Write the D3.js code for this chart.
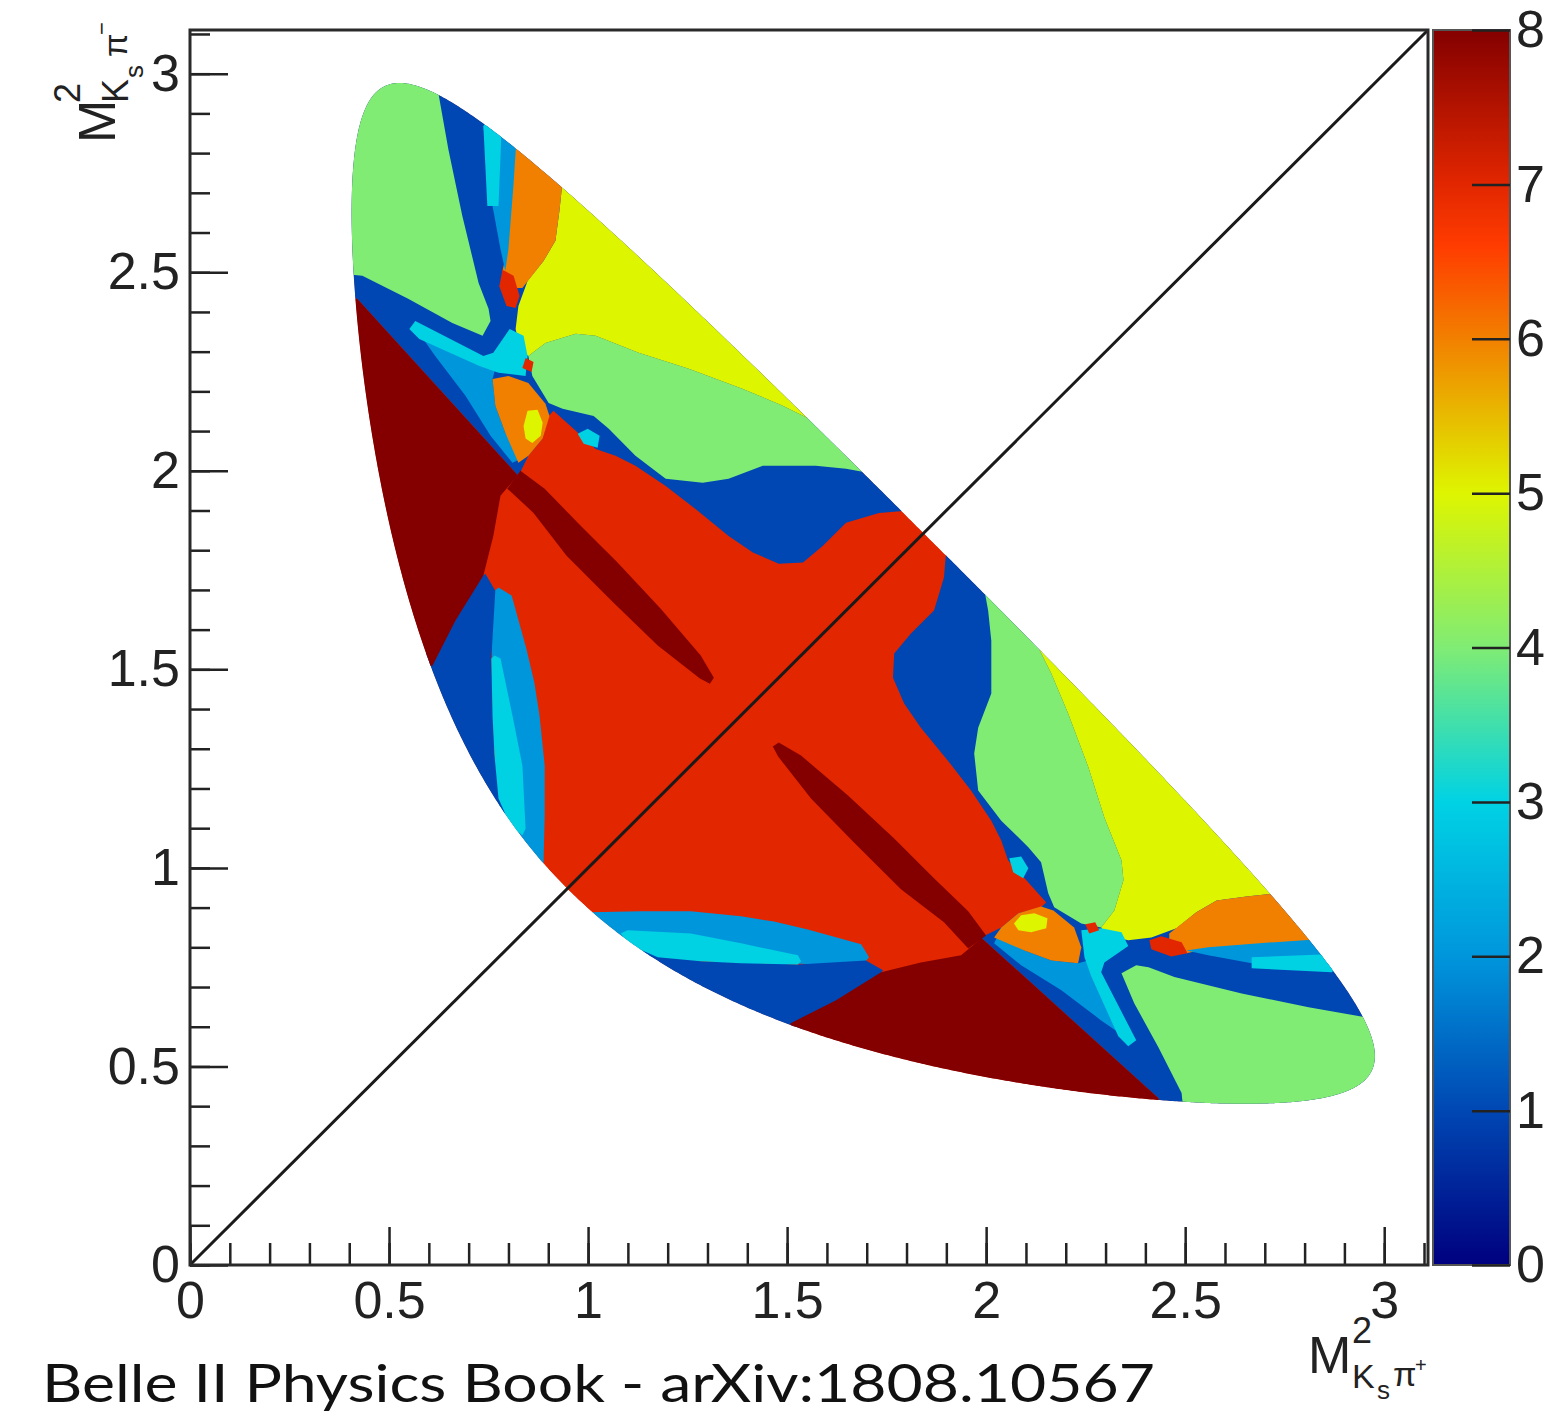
<!DOCTYPE html>
<html>
<head>
<meta charset="utf-8">
<script src="https://cdn.jsdelivr.net/npm/d3@7"></script>
<style>
  body { margin: 0; background: #fff; }
  svg { display: block; }
  .tick text, .lbl { font-family: "Liberation Sans", Arial, sans-serif; fill: #222; }
</style>
</head>
<body>
<div id="chart"></div>
<script>
// Kinematics of D0 -> Ks pi+ pi- (GeV)
const mD = 1.86484, mK = 0.497611, mPi = 0.13957;

// Axis ticks
const axisTicks = [0, 0.5, 1, 1.5, 2, 2.5, 3];
const axisTickLabels = ["0", "0.5", "1", "1.5", "2", "2.5", "3"];
const zTicks = [0, 1, 2, 3, 4, 5, 6, 7, 8];

// Colour palette (z value -> colour)
const paletteValues = [0, 1, 2, 3, 4, 5, 6, 6.6, 7, 8];
const paletteColors = ["#00007f", "#0047b3", "#0096dc", "#00d2e4", "#80ec74",
                       "#def500", "#f28000", "#ff3c00", "#e22600", "#840000"];

// Bin that fills the rest of the Dalitz plot
const baseBin = 7;

// Bin regions below the diagonal, [M2(Ks pi+), M2(Ks pi-)]; the other half is the mirror image
const blueRight = [[1.874,1.849],[1.899,1.791],[1.894,1.731],[1.869,1.648],[1.811,1.590],[1.769,1.540],
  [1.766,1.479],[1.794,1.414],[1.836,1.353],[1.904,1.270],[1.962,1.195],[2.013,1.119],[2.038,1.069],
  [2.055,1.019],[2.101,0.969],[2.151,0.913],[2.138,0.901],[2.081,0.886],[2.038,0.850],[1.987,0.825],
  [2.433,0.420],[2.440,0.314],[3.094,0.314],[3.094,1.849]];
const greenMid = [[1.975,1.774],[1.995,1.703],[2.005,1.648],[2.013,1.572],[2.013,1.439],[1.980,1.353],
  [1.970,1.288],[1.980,1.195],[2.038,1.119],[2.106,1.052],[2.138,1.014],[2.156,0.936],[2.171,0.901],
  [2.239,0.860],[2.289,0.850],[2.322,0.893],[2.345,0.969],[2.340,1.019],[2.297,1.127],[2.257,1.253],
  [2.206,1.389],[2.164,1.489],[2.131,1.555],[2.189,1.673],[2.038,1.824]];
const yellowRight = [[2.113,1.673],[2.131,1.555],[2.164,1.489],[2.206,1.389],[2.257,1.253],[2.297,1.127],
  [2.340,1.019],[2.345,0.969],[2.322,0.893],[2.289,0.850],[2.302,0.830],[2.357,0.818],[2.415,0.825],
  [2.478,0.848],[2.528,0.888],[2.579,0.918],[2.654,0.928],[2.730,0.936],[2.792,0.994],[2.541,1.421],
  [2.189,1.748]];
const orangeRight = [[2.460,0.835],[2.528,0.888],[2.579,0.918],[2.654,0.928],[2.730,0.936],[2.792,0.994],
  [2.906,0.843],[2.835,0.815],[2.725,0.810],[2.558,0.797],[2.503,0.785],[2.460,0.805]];
const redSpotRight = [[2.410,0.818],[2.440,0.828],[2.491,0.813],[2.506,0.785],[2.465,0.777],[2.415,0.795]];
const lightBlueRight = [[2.503,0.792],[2.558,0.800],[2.725,0.813],[2.835,0.820],[2.906,0.780],[2.868,0.737],
  [2.667,0.760],[2.558,0.780]];
const cyanRight = [[2.667,0.775],[2.843,0.782],[2.906,0.772],[2.868,0.737],[2.667,0.747]];
const greenRight = [[2.340,0.735],[2.372,0.659],[2.433,0.548],[2.491,0.433],[2.503,0.314],[3.094,0.314],
  [3.094,0.624],[2.951,0.624],[2.810,0.649],[2.642,0.684],[2.473,0.725],[2.408,0.750],[2.377,0.755]];
const lightBlueLow = [[2.030,0.830],[2.096,0.792],[2.164,0.767],[2.231,0.760],[2.257,0.767],[2.269,0.730],
  [2.332,0.586],[2.289,0.616],[2.189,0.692],[2.088,0.755],[2.020,0.810]];
const cyanCross = [[2.239,0.843],[2.289,0.848],[2.340,0.838],[2.357,0.803],[2.297,0.762],[2.289,0.737],
  [2.377,0.566],[2.357,0.551],[2.332,0.576],[2.264,0.727],[2.247,0.775]];
const cyanBlob = [[2.058,1.024],[2.088,1.029],[2.106,0.999],[2.093,0.974],[2.068,0.989]];
const redSpotMid = [[2.249,0.858],[2.274,0.863],[2.284,0.843],[2.259,0.835]];
const orangeBlob = [[2.020,0.825],[2.038,0.850],[2.081,0.886],[2.138,0.903],[2.169,0.893],[2.221,0.850],
  [2.239,0.800],[2.231,0.760],[2.164,0.767],[2.096,0.792]];
const yellowSpot = [[2.070,0.860],[2.088,0.881],[2.121,0.886],[2.154,0.873],[2.151,0.848],[2.113,0.838],
  [2.081,0.843]];
const lightBlueBottom = [[1.006,0.888],[1.132,0.891],[1.258,0.891],[1.384,0.878],[1.467,0.865],[1.552,0.845],
  [1.686,0.808],[1.706,0.775],[1.686,0.752],[1.132,0.777],[1.031,0.792]];
const blueBottom = [[1.132,0.792],[1.283,0.765],[1.527,0.757],[1.698,0.767],[1.741,0.742],[1.700,0.690],
  [1.600,0.620],[1.509,0.580],[1.484,0.465],[1.031,0.465]];
const cyanBottom = [[1.082,0.835],[1.099,0.843],[1.258,0.835],[1.384,0.810],[1.527,0.780],[1.535,0.765],
  [1.527,0.757],[1.384,0.760],[1.283,0.765],[1.175,0.775],[1.107,0.805]];
const darkRedWedge = [[1.509,0.609],[1.623,0.667],[1.736,0.737],[1.836,0.762],[1.937,0.780],[1.982,0.818],
  [1.987,0.825],[2.433,0.420],[2.440,0.314],[1.484,0.314]];
const darkRedEllipse = [[1.479,1.316],[1.535,1.283],[1.653,1.182],[1.769,1.074],[1.869,0.974],[1.955,0.891],
  [2.000,0.830],[1.955,0.797],[1.894,0.863],[1.786,0.946],[1.668,1.064],[1.560,1.175],[1.477,1.281],
  [1.464,1.306]];

// Drawing order and bin numbers
const regions = [
  { bin: 1, pts: blueRight }, { bin: 4, pts: greenMid }, { bin: 5, pts: yellowRight },
  { bin: 6, pts: orangeRight }, { bin: 7, pts: redSpotRight }, { bin: 2, pts: lightBlueRight },
  { bin: 3, pts: cyanRight }, { bin: 4, pts: greenRight }, { bin: 2, pts: lightBlueLow },
  { bin: 3, pts: cyanCross }, { bin: 3, pts: cyanBlob }, { bin: 7, pts: redSpotMid },
  { bin: 6, pts: orangeBlob }, { bin: 5, pts: yellowSpot }, { bin: 2, pts: lightBlueBottom },
  { bin: 1, pts: blueBottom }, { bin: 3, pts: cyanBottom }, { bin: 8, pts: darkRedWedge },
  { bin: 8, pts: darkRedEllipse }
];

const width = 1558, height = 1421;

const svg = d3.select("#chart").append("svg")
  .attr("width", width)
  .attr("height", height);

const x = d3.scaleLinear().domain([0, 3.11]).range([190, 1428]);
const y = d3.scaleLinear().domain([0, 3.11]).range([1265, 30]);
const color = d3.scaleLinear().domain(paletteValues).range(paletteColors);

// Dalitz boundary: range of M2(Ks pi-) for a given M2(Ks pi+)
function m13Range(m12) {
  const s = Math.sqrt(m12);
  const e1 = (m12 - mPi * mPi + mK * mK) / (2 * s);
  const e3 = (mD * mD - m12 - mPi * mPi) / (2 * s);
  const p1 = Math.sqrt(Math.max(0, e1 * e1 - mK * mK));
  const p3 = Math.sqrt(Math.max(0, e3 * e3 - mPi * mPi));
  const sum = (e1 + e3) * (e1 + e3);
  return [sum - (p1 + p3) * (p1 + p3), sum - (p1 - p3) * (p1 - p3)];
}
const lo = (mK + mPi) ** 2, hi = (mD - mPi) ** 2;
const upper = [], lower = [];
for (let i = 0; i <= 600; i++) {
  const m = lo + (hi - lo) * (1 - Math.cos(Math.PI * i / 600)) / 2;
  const r = m13Range(m);
  lower.push([m, r[0]]);
  upper.push([m, r[1]]);
}
const boundary = upper.concat(lower.reverse());

const line = d3.line().x(d => x(d[0])).y(d => y(d[1]));

svg.append("clipPath").attr("id", "dalitz")
  .append("path").attr("d", line(boundary) + "Z");

const plot = svg.append("g").attr("clip-path", "url(#dalitz)");

plot.append("path")
  .attr("d", line(boundary) + "Z")
  .attr("fill", color(baseBin));

// lower-right half, then its mirror
const mirrored = regions.map(r => ({ bin: r.bin, pts: r.pts.map(p => [p[1], p[0]]) }));
plot.selectAll("path.bin")
  .data(regions.concat(mirrored))
  .join("path")
  .attr("class", "bin")
  .attr("d", d => line(d.pts) + "Z")
  .attr("fill", d => color(d.bin));

// diagonal
svg.append("line")
  .attr("x1", x(0)).attr("y1", y(0))
  .attr("x2", x(3.11)).attr("y2", y(3.11))
  .attr("stroke", "#1a1a1a")
  .attr("stroke-width", 3);

// minor ticks
const minor = d3.range(0, 3.11, 0.1);
svg.append("g").attr("transform", `translate(0,${y(0)})`)
  .call(d3.axisBottom(x).tickValues(minor).tickSize(-22).tickFormat(""))
  .call(g => g.select(".domain").remove())
  .call(g => g.selectAll("line").attr("stroke", "#222").attr("stroke-width", 2.5));
svg.append("g").attr("transform", `translate(${x(0)},0)`)
  .call(d3.axisLeft(y).tickValues(minor).tickSize(-20).tickFormat(""))
  .call(g => g.select(".domain").remove())
  .call(g => g.selectAll("line").attr("stroke", "#222").attr("stroke-width", 2.5));

// major ticks + labels
svg.append("g").attr("transform", `translate(0,${y(0)})`)
  .call(d3.axisBottom(x).tickValues(axisTicks).tickSize(-38).tickPadding(16)
    .tickFormat((d, i) => axisTickLabels[i]))
  .call(g => g.select(".domain").remove())
  .call(g => g.selectAll("line").attr("stroke", "#222").attr("stroke-width", 2.5))
  .call(g => g.selectAll("text").attr("font-size", 52).attr("fill", "#222"));
svg.append("g").attr("transform", `translate(${x(0)},0)`)
  .call(d3.axisLeft(y).tickValues(axisTicks).tickSize(-38).tickPadding(10)
    .tickFormat((d, i) => axisTickLabels[i]))
  .call(g => g.select(".domain").remove())
  .call(g => g.selectAll("line").attr("stroke", "#222").attr("stroke-width", 2.5))
  .call(g => g.selectAll("text").attr("font-size", 52).attr("fill", "#222"));

// frame
svg.append("rect")
  .attr("x", x(0)).attr("y", y(3.11))
  .attr("width", x(3.11) - x(0)).attr("height", y(0) - y(3.11))
  .attr("fill", "none").attr("stroke", "#2a2a2a").attr("stroke-width", 3);

// colour bar
const z = d3.scaleLinear().domain([0, 8]).range([1265, 30]);
const grad = svg.append("defs").append("linearGradient")
  .attr("id", "pal").attr("x1", 0).attr("y1", 1).attr("x2", 0).attr("y2", 0);
grad.selectAll("stop").data(paletteValues).join("stop")
  .attr("offset", d => d / 8)
  .attr("stop-color", d => color(d));
svg.append("rect")
  .attr("x", 1433).attr("y", z(8))
  .attr("width", 77).attr("height", z(0) - z(8))
  .attr("fill", "url(#pal)")
  .attr("stroke", "#555").attr("stroke-width", 2);
svg.append("g").attr("transform", "translate(1510,0)")
  .call(d3.axisRight(z).tickValues(zTicks).tickSize(-38).tickPadding(6).tickFormat(d3.format("d")))
  .call(g => g.select(".domain").remove())
  .call(g => g.selectAll("line").attr("stroke", "#222").attr("stroke-width", 2.5))
  .call(g => g.selectAll("text").attr("font-size", 52).attr("fill", "#222"));

// x title
const xt = svg.append("g").attr("class", "lbl");
[["M", 1308, 1373, 52], ["2", 1352, 1343, 36], ["K", 1352, 1388, 34],
 ["s", 1377, 1399, 26], ["\u03c0", 1393, 1386, 34], ["+", 1415, 1372, 20]]
  .forEach(([t, px, py, fs]) => xt.append("text").attr("class", "lbl")
    .attr("x", px).attr("y", py).attr("font-size", fs).text(t));

// y title (rotated)
const yt = svg.append("g").attr("transform", "translate(115,143) rotate(-90)");
[["M", 0, 0, 52], ["2", 40, -35, 36], ["K", 40, 13, 36],
 ["s", 65, 28, 26], ["\u03c0", 86, 12, 34], ["\u2212", 108, -6, 22]]
  .forEach(([t, px, py, fs]) => yt.append("text").attr("class", "lbl")
    .attr("x", px).attr("y", py).attr("font-size", fs).text(t));

// caption
svg.append("text")
  .attr("x", 42).attr("y", 1402)
  .attr("font-family", "Lato, 'Open Sans', sans-serif")
  .attr("font-size", 52)
  .attr("fill", "#111")
  .attr("textLength", 1113)
  .attr("lengthAdjust", "spacingAndGlyphs")
  .text("Belle II Physics Book - arXiv:1808.10567");
</script>
</body>
</html>
